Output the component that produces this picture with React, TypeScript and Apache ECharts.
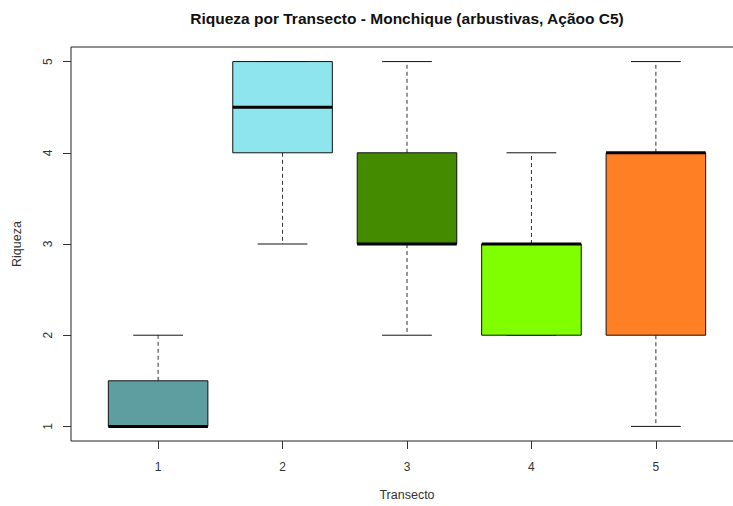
import React, { useEffect, useRef } from "react";
import * as echarts from "echarts";

// Riqueza por transecto: five-number summaries per box
const transectos = [1, 2, 3, 4, 5];
const minimo = [1, 3, 2, 2, 1];
const quartil1 = [1, 4, 3, 2, 2];
const mediana = [1, 4.5, 3, 3, 4];
const quartil3 = [1.5, 5, 4, 3, 4];
const maximo = [2, 5, 5, 4, 5];
const cores = ["#5F9EA0", "#8EE5EE", "#458B00", "#7FFF00", "#FF7F24"];
const ticksY = [1, 2, 3, 4, 5];

const FONT = '"Liberation Sans", Arial, sans-serif';

export default function App() {
  const ref = useRef<HTMLDivElement>(null);

  useEffect(() => {
    document.body.style.margin = "0";
    if (!ref.current) return;
    const chart = echarts.init(ref.current, null, { renderer: "svg" });

    const data = transectos.map((t, i) => [
      t,
      minimo[i],
      quartil1[i],
      mediana[i],
      quartil3[i],
      maximo[i],
    ]);

    const renderItem = (params: any, api: any) => {
      const x = api.value(0);
      const pMin = api.coord([x, api.value(1)]);
      const pQ1 = api.coord([x, api.value(2)]);
      const pMed = api.coord([x, api.value(3)]);
      const pQ3 = api.coord([x, api.value(4)]);
      const pMax = api.coord([x, api.value(5)]);
      const boxW = api.size([0.8, 0])[0];
      const capW = boxW / 2;
      const cx = pMed[0];
      const whisker = { stroke: "#333", lineWidth: 1, lineDash: [4, 3] };
      const solid = { stroke: "#111", lineWidth: 1 };
      return {
        type: "group",
        children: [
          { type: "line", shape: { x1: cx, y1: pQ3[1], x2: cx, y2: pMax[1] }, style: whisker },
          { type: "line", shape: { x1: cx, y1: pQ1[1], x2: cx, y2: pMin[1] }, style: whisker },
          { type: "line", shape: { x1: cx - capW / 2, y1: pMax[1], x2: cx + capW / 2, y2: pMax[1] }, style: solid },
          { type: "line", shape: { x1: cx - capW / 2, y1: pMin[1], x2: cx + capW / 2, y2: pMin[1] }, style: solid },
          {
            type: "rect",
            shape: { x: cx - boxW / 2, y: pQ3[1], width: boxW, height: pQ1[1] - pQ3[1] },
            style: { fill: cores[params.dataIndex], stroke: "#111", lineWidth: 1 },
          },
          {
            type: "line",
            shape: { x1: cx - boxW / 2, y1: pMed[1], x2: cx + boxW / 2, y2: pMed[1] },
            style: { stroke: "#000", lineWidth: 3 },
          },
        ],
      };
    };

    chart.setOption({
      animation: false,
      backgroundColor: "#fff",
      graphic: [
        {
          type: "text",
          x: 407,
          y: 18,
          style: {
            text: "Riqueza por Transecto - Monchique (arbustivas, Açãoo C5)",
            font: `bold 15.5px ${FONT}`,
            fill: "#111",
            textAlign: "center",
            textVerticalAlign: "middle",
          },
        },
      ],
      grid: {
        left: 71,
        top: 47,
        width: 672,
        bottom: 65,
        show: true,
        borderColor: "#222",
        borderWidth: 1,
        outerBoundsMode: "none",
        containLabel: false,
      },
      xAxis: {
        type: "value",
        min: 0.3,
        max: 5.7,
        name: "Transecto",
        nameLocation: "middle",
        nameGap: 47,
        nameTextStyle: { fontFamily: FONT, fontSize: 12.5, color: "#333" },
        splitLine: { show: false },
        axisLine: { show: false },
        axisTick: { show: true, length: 8, customValues: transectos, lineStyle: { color: "#333" } },
        axisLabel: { customValues: transectos, fontFamily: FONT, fontSize: 12, color: "#333", margin: 20 },
      },
      yAxis: {
        type: "value",
        min: 0.84,
        max: 5.16,
        name: "Riqueza",
        nameLocation: "middle",
        nameGap: 48,
        nameRotate: 90,
        nameTextStyle: { fontFamily: FONT, fontSize: 12.5, color: "#333" },
        splitLine: { show: false },
        axisLine: { show: false },
        axisTick: { show: true, length: 8, customValues: ticksY, lineStyle: { color: "#333" } },
        axisLabel: { customValues: ticksY, rotate: 90, fontFamily: FONT, fontSize: 12, color: "#333", margin: 17 },
      },
      series: [
        {
          type: "custom",
          renderItem,
          encode: { x: 0, y: [1, 2, 3, 4, 5] },
          data,
        },
      ],
    });

    return () => chart.dispose();
  }, []);

  return <div ref={ref} style={{ width: 733, height: 506 }} />;
}
